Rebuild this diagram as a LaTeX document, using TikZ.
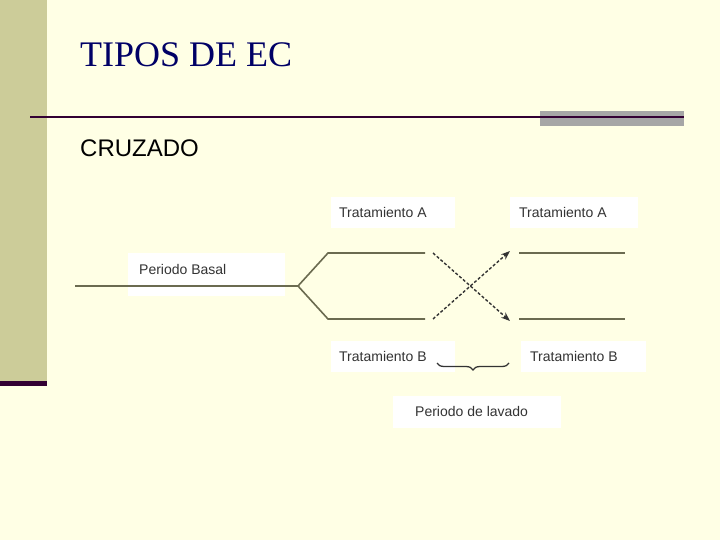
\documentclass[tikz,border=0pt]{standalone}
\usepackage{fontspec}
\setmainfont{Liberation Serif}
\setsansfont{Liberation Sans}
\usetikzlibrary{arrows.meta,decorations.pathreplacing}
\definecolor{bg}{HTML}{FFFFE5}
\definecolor{bar}{HTML}{CCCC99}
\definecolor{dk}{HTML}{330033}
\definecolor{ln}{HTML}{6B6B50}
\definecolor{navy}{HTML}{000066}
\begin{document}
\begin{tikzpicture}[x=1pt,y=-1pt,
  lab/.style={font=\sffamily\fontsize{14}{16}\selectfont,text=black!80,anchor=west,inner sep=0},
  solidl/.style={ln,line width=1.6pt},
  dasharrow/.style={densely dashed,line width=1.4pt,black!80,-{Stealth[length=9pt]}}]
\fill[bg] (0,0) rectangle (720,540);
\useasboundingbox (0,0) rectangle (720,540);
\fill[bar] (0,0) rectangle (47,384);
\fill[dk] (0,381) rectangle (47,386);
\fill[gray!70] (540,111) rectangle (684,126);
\draw[dk,line width=2.5pt] (30,117) -- (684,117);
\node[anchor=west,text=navy,font=\fontsize{36}{40}\selectfont,inner sep=0] (title) at (80,55) {TIPOS DE EC};
\node[anchor=west,font=\sffamily\fontsize{24}{28}\selectfont,inner sep=0] (sub) at (80,148) {CRUZADO};
% boxes
\fill[white] (331,197) rectangle (455,228);
\fill[white] (510,197) rectangle (638,228);
\fill[white] (128,253) rectangle (285,296);
\fill[white] (331,341) rectangle (455,372);
\fill[white] (521,341) rectangle (646,372);
\fill[white] (393,396) rectangle (561,428);
\node[lab] (ta1) at (339,212) {Tratamiento A};
\node[lab] (ta2) at (519,212) {Tratamiento A};
\node[lab] (pb) at (139,269) {Periodo Basal};
\node[lab] (tb1) at (339,356) {Tratamiento B};
\node[lab] (tb2) at (530,356) {Tratamiento B};
\node[lab] (pl) at (415,411) {Periodo de lavado};
% lines
\coordinate (s) at (75,286);
\coordinate (f) at (298,286);
\coordinate (u1) at (328,253); \coordinate (u2) at (425,253);
\coordinate (l1) at (328,319); \coordinate (l2) at (425,319);
\coordinate (r1) at (519,253); \coordinate (r2) at (625,253);
\coordinate (r3) at (519,319); \coordinate (r4) at (625,319);
\draw[solidl] (s) -- (f) -- (u1) -- (u2);
\draw[solidl] (f) -- (l1) -- (l2);
\draw[solidl] (r1) -- (r2);
\draw[solidl] (r3) -- (r4);
\coordinate (d1) at (433,253); \coordinate (d2) at (510,321);
\coordinate (d3) at (433,319); \coordinate (d4) at (510,251);
\draw[dasharrow] (d1) -- (d2);
\draw[dasharrow] (d3) -- (d4);
\coordinate (b1) at (509,363); \coordinate (b2) at (437,363);
\draw[black!80,line width=1.3pt,decorate,decoration={brace,amplitude=7pt}] (b1) -- (b2);
\end{tikzpicture}
\end{document}
